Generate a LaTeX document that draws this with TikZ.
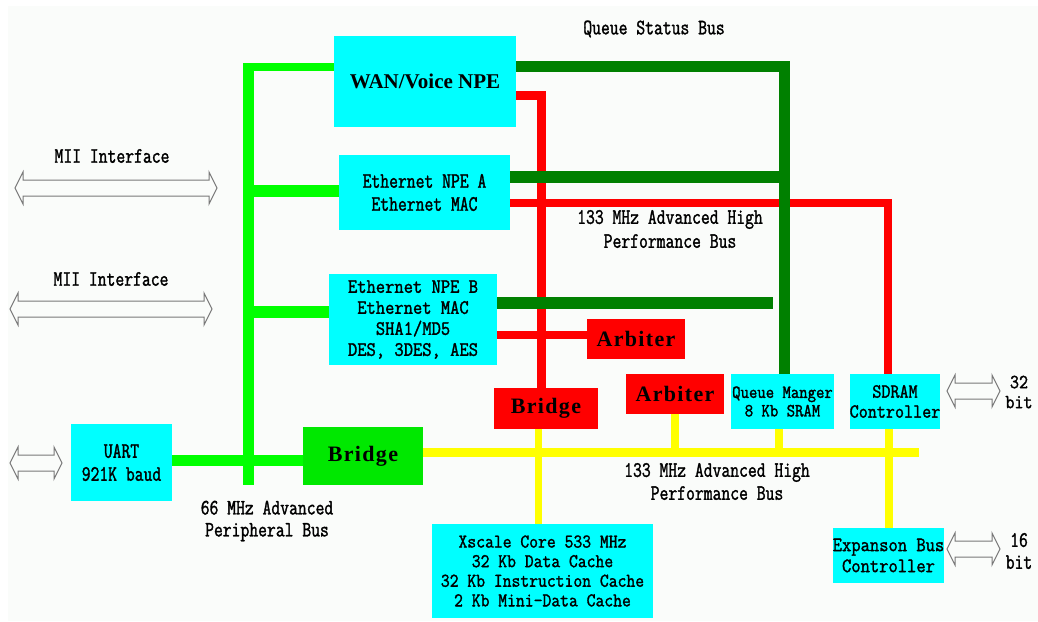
\documentclass[tikz,border=0pt]{standalone}
\usepackage{fontspec}
\newfontfamily\dfont[FakeStretch=0.78,FakeBold=1.5]{Latin Modern Mono}
\newfontfamily\xfont[FakeStretch=0.88,FakeBold=1.5]{Latin Modern Mono}
\newfontfamily\bfont[LetterSpace=6]{Liberation Serif}
\newfontfamily\wfont{Liberation Serif}
\definecolor{cy}{RGB}{0,255,255}
\definecolor{lgr}{RGB}{0,255,0}
\definecolor{bgr}{RGB}{0,232,0}
\definecolor{dgr}{RGB}{0,128,0}
\definecolor{rd}{RGB}{255,0,0}
\definecolor{yl}{RGB}{255,255,0}
\definecolor{arrgray}{RGB}{120,120,120}
\definecolor{paper}{RGB}{250,252,250}
\pgfdeclarelayer{wires}
\pgfsetlayers{wires,main}
\newcommand{\hollowarrow}[3]{\draw[arr] (#1,#3) -- (#1+8,#3-16) -- (#1+8,#3-8) -- (#2-8,#3-8) -- (#2-8,#3-16) -- (#2,#3) -- (#2-8,#3+16) -- (#2-8,#3+8) -- (#1+8,#3+8) -- (#1+8,#3+16) -- cycle;}
\tikzset{
  box/.style={fill=cy, inner sep=0pt, align=center, font=\dfont\fontsize{22}{22}\selectfont},
  rbox/.style={fill=rd, inner sep=0pt, font=\bfont\bfseries\fontsize{22}{22}\selectfont},
  lbl/.style={inner sep=0pt, align=center, font=\dfont\fontsize{22}{23}\selectfont},
  arr/.style={draw=arrgray, line width=1pt, line join=miter},
  lgw/.style={draw=lgr, line width=11pt},
  dgw/.style={draw=dgr, line width=11pt},
  rdw/.style={draw=rd, line width=8.5pt},
  ylw/.style={draw=yl, line width=8.5pt},
}
\begin{document}
\begin{tikzpicture}[x=1pt,y=-1pt]
\useasboundingbox (0,0) rectangle (1038,621);
% boxes
\node[box, minimum width=182pt, minimum height=91pt, font=\wfont\bfseries\fontsize{21}{22}\selectfont] (wan) at (425,81.5) {WAN/Voice NPE};
\node[box, minimum width=171pt, minimum height=75pt, font=\dfont\fontsize{22}{23}\selectfont] (npea) at (424.5,192.5) {Ethernet NPE A\\Ethernet MAC};
\node[box, minimum width=168pt, minimum height=91pt, font=\xfont\fontsize{20.5}{21}\selectfont] (npeb) at (413,319.5) {Ethernet NPE B\\Ethernet MAC\\SHA1/MD5\\DES, 3DES, AES};
\node[box, minimum width=101pt, minimum height=77pt, font=\dfont\fontsize{22}{23}\selectfont] (uart) at (121.5,462.5) {UART\\921K baud};
\node[box, fill=bgr, minimum width=120pt, minimum height=58pt, font=\bfont\bfseries\fontsize{22}{22}\selectfont] (gbridge) at (363,456) {Bridge};
\node[rbox, minimum width=104pt, minimum height=41pt] (rbridge) at (546,408.5) {Bridge};
\node[rbox, minimum width=98pt, minimum height=40pt] (arb1) at (636,339) {Arbiter};
\node[rbox, minimum width=98pt, minimum height=40pt] (arb2) at (675,394) {Arbiter};
\node[box, minimum width=103pt, minimum height=55pt, font=\xfont\fontsize{18.5}{18.5}\selectfont] (qm) at (782.5,401.5) {Queue Manger\\8 Kb SRAM};
\node[box, minimum width=90pt, minimum height=55pt, font=\xfont\fontsize{20}{20}\selectfont] (sdram) at (895,401.5) {SDRAM\\Controller};
\node[box, minimum width=109pt, minimum height=55pt, font=\xfont\fontsize{20.5}{21}\selectfont] (exp) at (888.5,555.5) {Expanson Bus\\Controller};
\node[box, minimum width=221pt, minimum height=94pt, font=\xfont\fontsize{19.5}{19.6}\selectfont] (xscale) at (542.5,571) {Xscale Core 533 MHz\\32 Kb Data Cache\\32 Kb Instruction Cache\\2 Kb Mini-Data Cache};
% labels
\node[lbl] (qsb) at (654,29) {Queue Status Bus};
\node[lbl, font=\dfont\fontsize{22}{24}\selectfont] (ahb1) at (670,229) {133 MHz Advanced High\\Performance Bus};
\node[lbl] (ahb2) at (717,481.5) {133 MHz Advanced High\\Performance Bus};
\node[lbl, font=\dfont\fontsize{22}{22}\selectfont] (apb) at (267,521) {66 MHz Advanced\\Peripheral Bus};
\node[lbl] (mii1) at (112,156) {MII Interface};
\node[lbl] (mii2) at (111,279) {MII Interface};
\node[lbl, font=\xfont\fontsize{20}{20}\selectfont] (b32) at (1019,392) {32\\bit};
\node[lbl, font=\dfont\fontsize{22}{22}\selectfont] (b16) at (1019,551) {16\\bit};
% free ends
\coordinate (apbtop) at (248.5,63);
\coordinate (apbbot) at (248.5,485);
\coordinate (w1) at (243,67);
\coordinate (qsbA) at (784.5,177);
\coordinate (qsbB) at (773,303);
\coordinate (ahbend) at (919,452.5);
\coordinate (apbA) at (243,190.5);
\coordinate (apbB) at (243,312);
\begin{pgfonlayer}{wires}
\fill[white] (0,0) rectangle (1038,621);
\fill[paper] (8,6) rectangle (1038,621);
% red AHB
\draw[rdw, line width=9pt] ([yshift=-13.5pt]wan.east) -| ([xshift=-4.5pt]rbridge.north);
\draw[rdw] ([yshift=-10.5pt]npea.east) -| ([xshift=-7pt]sdram.north);
\draw[rdw] ([yshift=-15.5pt]npeb.east) -- ([yshift=4pt]arb1.west);
% dark green queue status bus
\draw[dgw] ([yshift=15pt]wan.east) -| ([xshift=2pt]qm.north);
\draw[dgw, line width=12pt] ([yshift=15.5pt]npea.east) -- (qsbA);
\draw[dgw, line width=12pt] ([yshift=16.5pt]npeb.east) -- (qsbB);
% yellow AHB
\draw[ylw] ([yshift=3.5pt]gbridge.east) -- (ahbend);
\draw[ylw, line width=7.5pt] ([xshift=-7.5pt]rbridge.south) -- ([xshift=-4pt]xscale.north);
\draw[ylw, line width=7.5pt] (arb2.south) -- (arb2.south |- ahbend);
\draw[ylw, line width=7.5pt] ([xshift=-3.5pt]qm.south) -- ([xshift=-3.5pt]qm.south |- ahbend);
\draw[ylw, line width=7.5pt] ([xshift=-6pt]sdram.south) -- ([xshift=0.5pt]exp.north);
% light green APB
\draw[lgw] (apbtop) -- (apbbot);
\draw[lgw, line width=8pt] ([yshift=14.5pt]wan.west) -- (w1);
\draw[lgw, line width=12pt] ([yshift=2pt]npea.west) -- (apbA);
\draw[lgw, line width=12pt] ([yshift=7.5pt]npeb.west) -- (apbB);
\draw[lgw] ([yshift=2pt]uart.east) -- ([yshift=-4.5pt]gbridge.west);
\end{pgfonlayer}
% hollow double arrows
\hollowarrow{15}{217}{188}
\hollowarrow{10}{212}{309}
\hollowarrow{10}{62}{463}
\hollowarrow{947}{1000}{391}
\hollowarrow{947}{1000}{549}
\end{tikzpicture}
\end{document}
